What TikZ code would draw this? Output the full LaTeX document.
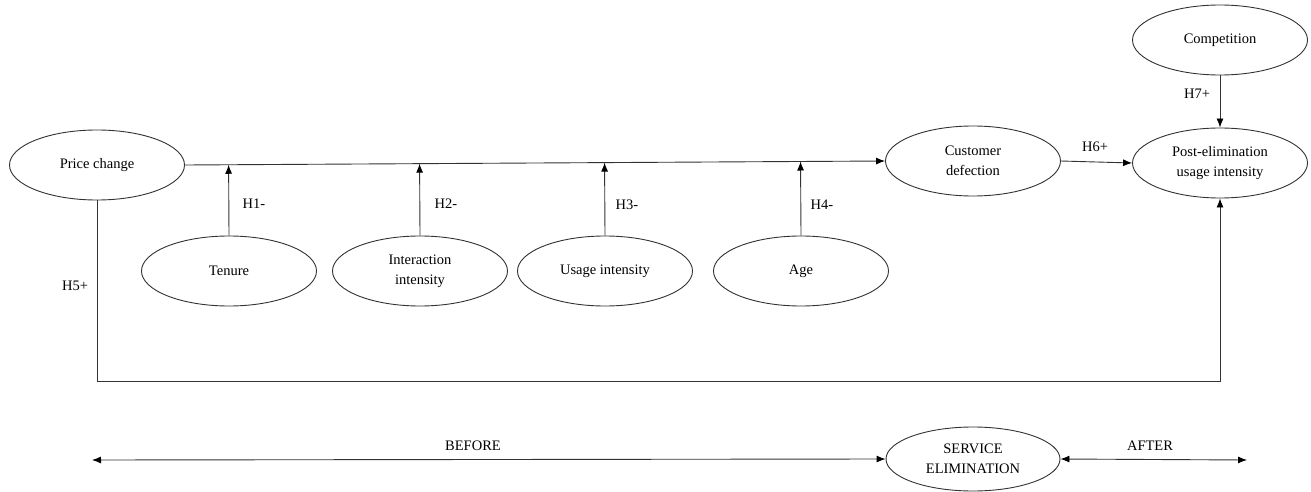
\documentclass[tikz,border=0pt]{standalone}
\usepackage{fontspec}
\setmainfont{Liberation Serif}
\newfontfamily\tnr{Liberation Serif}
\usetikzlibrary{shapes.geometric,arrows.meta,calc}
\begin{document}
\begin{tikzpicture}[x=1pt,y=-1pt,
  lc/.style={draw=black!80,line width=0.9pt},
  var/.style={ellipse,lc,minimum width=175pt,minimum height=70pt,inner sep=0pt,align=center,
    font=\tnr\fontsize{14.5}{20}\selectfont},
  tip/.tip={Latex[length=9pt,width=7pt,fill=black,color=black]},
  arr/.style={lc,-tip},
  dbl/.style={lc,tip-tip},
  lab/.style={font=\tnr\fontsize{14.5}{20}\selectfont,inner sep=0pt}]
\useasboundingbox (0,0) rectangle (1311,492);
\node[var] (pc) at (97,165) {Price change};
\node[var] (cd) at (973,161) {Customer\\defection};
\node[var] (pe) at (1220,163) {Post-elimination\\usage intensity};
\node[var] (co) at (1220,40) {Competition};
\node[var] (te) at (229,271) {Tenure};
\node[var] (ii) at (420,271) {Interaction\\intensity};
\node[var] (ui) at (605,271) {Usage intensity};
\node[var] (ag) at (801,271) {Age};
\node[var,minimum width=174pt,minimum height=64pt] (se) at (973,459) {SERVICE\\ELIMINATION};
\draw[arr] (pc.east) -- (cd.west);
\draw[arr] (te.north) -- ($(pc.east)!(te.north)!(cd.west)$);
\draw[arr] (ii.north) -- ($(pc.east)!(ii.north)!(cd.west)$);
\draw[arr] (ui.north) -- ($(pc.east)!(ui.north)!(cd.west)$);
\draw[arr] (ag.north) -- ($(pc.east)!(ag.north)!(cd.west)$);
\draw[arr] (cd.east) -- (pe.west);
\draw[arr] (co.south) -- (pe.north);
\coordinate (lb) at (97,381);
\coordinate (rb) at (1220,381);
\draw[arr] (pc.south) -- (lb) -- (rb) -- (pe.south);
\coordinate (bl) at (92,460);
\coordinate (br) at (1247,460);
\draw[dbl] (bl) -- (se.west);
\draw[dbl] (se.east) -- (br);
\node[lab] (h1) at (254,204) {H1-};
\node[lab] (h2) at (446,204) {H2-};
\node[lab] (h3) at (627,205) {H3-};
\node[lab] (h4) at (822,205) {H4-};
\node[lab] (h5) at (75,286) {H5+};
\node[lab] (h6) at (1095,147) {H6+};
\node[lab] (h7) at (1197,94) {H7+};
\node[lab] (bf) at (473,446) {BEFORE};
\node[lab] (af) at (1150,446) {AFTER};
\end{tikzpicture}
\end{document}
